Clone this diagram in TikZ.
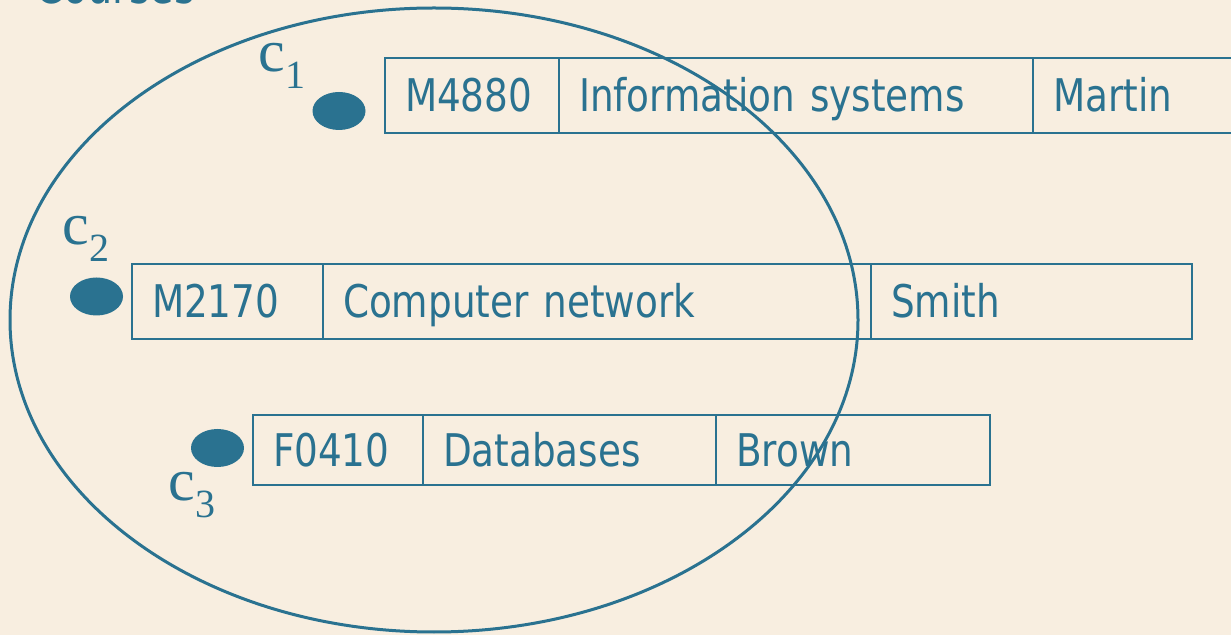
\documentclass[tikz,border=0pt]{standalone}
\usepackage{fontspec}
\setmainfont{DejaVu Sans}[FakeStretch=0.83]
\newfontfamily\serifc{Liberation Serif}
\usepackage{tikz}
\usetikzlibrary{shapes,shapes.geometric}
\definecolor{cblue}{RGB}{42,114,144}
\definecolor{cream}{RGB}{248,238,224}
\tikzset{
  cell/.style={draw=cblue, line width=1.2pt, anchor=north west, outer sep=0pt,
    inner xsep=10pt, inner ysep=0pt, minimum height=37.5pt, align=left,
    text width=#1, text height=16.5pt, text depth=0pt, text=cblue,
    font=\fontsize{22.5}{24}\selectfont},
  dot/.style={ellipse, fill=cblue, inner sep=0pt, minimum width=26.5pt, minimum height=19pt},
  lbl/.style={anchor=base west, inner sep=0pt, text=cblue, font=\serifc\fontsize{30}{30}\selectfont}
}
\newcommand{\sublbl}[1]{\raisebox{-8.5pt}{\fontsize{20}{20}\selectfont #1}}

\begin{document}
\begin{tikzpicture}[x=0.5pt,y=-0.5pt]
	\path[use as bounding box, fill=cream] (0,0) rectangle (1231,635);
	\node[anchor=base west, inner sep=0pt, text=cblue, font=\fontsize{24}{24}\selectfont] (title) at (35,4) {Courses};
	\draw[cblue, line width=1.5pt] (434,320) ellipse [x radius=424, y radius=312];
	% c1
	\node[cell=67pt] (a1) at (385,58) {M4880};
	\node[cell=217pt] (b1) at (a1.north east) {Information systems};
	\node[cell=130pt] (d1) at (b1.north east) {Martin};
	\node[dot] (p1) at (339,111) {};
	\node[lbl] (l1) at (258,72) {c\sublbl{1}};
	% c2
	\node[cell=75.5pt] (a2) at (132,264) {M2170};
	\node[cell=254pt] (b2) at (a2.north east) {Computer network};
	\node[cell=140.5pt] (d2) at (b2.north east) {Smith};
	\node[dot] (p2) at (96.5,296.5) {};
	\node[lbl] (l2) at (62,245) {c\sublbl{2}};
	% c3
	\node[cell=65pt, minimum height=35pt] (a3) at (253,415) {F0410};
	\node[cell=126.5pt, minimum height=35pt] (b3) at (a3.north east) {Databases};
	\node[cell=117pt, minimum height=35pt] (d3) at (b3.north east) {Brown};
	\node[dot] (p3) at (217.5,448) {};
	\node[lbl] (l3) at (168,501) {c\sublbl{3}};
\end{tikzpicture}
\end{document}
